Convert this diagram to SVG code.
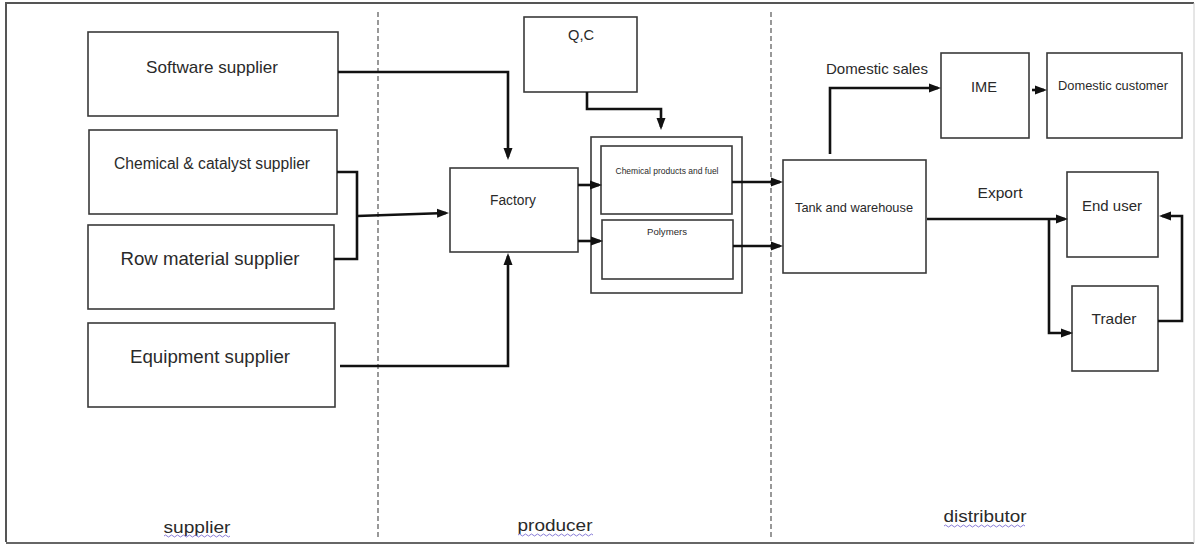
<svg xmlns="http://www.w3.org/2000/svg" width="1195" height="545" viewBox="0 0 1195 545">
<style>
  .box{fill:#fff;stroke:#3a3a3a;stroke-width:1.6}
  .t{font-family:"Liberation Sans",Arial,sans-serif;fill:#2a2a2a;text-anchor:middle}
  .c{fill:none;stroke:#111;stroke-width:2.6;stroke-linejoin:miter}
  .dash{stroke:#555;stroke-width:1.2;stroke-dasharray:5 3}
  .sq{fill:none;stroke:#6a5acd;stroke-width:0.8}
</style>
<defs>
  <marker id="ah" markerUnits="userSpaceOnUse" markerWidth="12" markerHeight="10" refX="9" refY="5" orient="auto">
    <path d="M0,0.5 L12,5 L0,9.5 z" fill="#111"/>
  </marker>
</defs>
<rect x="0" y="0" width="1195" height="545" fill="#fff"/>
<g id="frame">
  <path d="M6,542 V3 H1194" fill="none" stroke="#555" stroke-width="2"/>
  <path d="M6,543 H1194" fill="none" stroke="#666" stroke-width="2"/>
  <path d="M1194,3 V543" fill="none" stroke="#ccc" stroke-width="1"/>
</g>
<g id="dividers">
  <line class="dash" x1="378" y1="12" x2="378" y2="540"/>
  <line class="dash" x1="771" y1="12" x2="771" y2="540"/>
</g>
<g id="software-supplier">
  <rect class="box" x="88" y="32" width="250" height="84"/>
  <text class="t" x="212" y="73" font-size="17" textLength="132" lengthAdjust="spacingAndGlyphs">Software supplier</text>
</g>
<g id="chemical-catalyst-supplier">
  <rect class="box" x="89" y="130" width="248" height="84"/>
  <text class="t" x="212" y="169" font-size="16" textLength="196" lengthAdjust="spacingAndGlyphs">Chemical &amp; catalyst supplier</text>
</g>
<g id="row-material-supplier">
  <rect class="box" x="88" y="225" width="246" height="84"/>
  <text class="t" x="210" y="265" font-size="19" textLength="179" lengthAdjust="spacingAndGlyphs">Row material supplier</text>
</g>
<g id="equipment-supplier">
  <rect class="box" x="88" y="323" width="247" height="84"/>
  <text class="t" x="210" y="363" font-size="18" textLength="160" lengthAdjust="spacingAndGlyphs">Equipment supplier</text>
</g>
<g id="factory">
  <rect class="box" x="450" y="168" width="128" height="84"/>
  <text class="t" x="513" y="205" font-size="14" textLength="46" lengthAdjust="spacingAndGlyphs">Factory</text>
</g>
<g id="qc">
  <rect class="box" x="524" y="17" width="113" height="75"/>
  <text class="t" x="581" y="40" font-size="14" textLength="26" lengthAdjust="spacingAndGlyphs">Q,C</text>
</g>
<g id="products">
  <rect class="box" x="591" y="137" width="151" height="156"/>
  <g id="chemical-products">
    <rect class="box" x="601" y="146" width="131" height="68"/>
    <text class="t" x="667" y="174" font-size="9" textLength="103" lengthAdjust="spacingAndGlyphs">Chemical products and fuel</text>
  </g>
  <g id="polymers">
    <rect class="box" x="602" y="220" width="131" height="59"/>
    <text class="t" x="667" y="235" font-size="9.5" textLength="40" lengthAdjust="spacingAndGlyphs">Polymers</text>
  </g>
</g>
<g id="tank-warehouse">
  <rect class="box" x="783" y="160" width="143" height="113"/>
  <text class="t" x="854" y="212" font-size="13" textLength="118" lengthAdjust="spacingAndGlyphs">Tank and warehouse</text>
</g>
<g id="ime">
  <rect class="box" x="941" y="53" width="88" height="85"/>
  <text class="t" x="984" y="92" font-size="15" textLength="26" lengthAdjust="spacingAndGlyphs">IME</text>
</g>
<g id="domestic-customer">
  <rect class="box" x="1047" y="53" width="135" height="85"/>
  <text class="t" x="1113" y="90" font-size="13" textLength="110" lengthAdjust="spacingAndGlyphs">Domestic customer</text>
</g>
<g id="end-user">
  <rect class="box" x="1067" y="172" width="91" height="85"/>
  <text class="t" x="1112" y="211" font-size="15" textLength="60" lengthAdjust="spacingAndGlyphs">End user</text>
</g>
<g id="trader">
  <rect class="box" x="1072" y="286" width="86" height="85"/>
  <text class="t" x="1114" y="324" font-size="15" textLength="45" lengthAdjust="spacingAndGlyphs">Trader</text>
</g>
<g id="connectors">
  <path class="c" d="M338,72 H508 V157" marker-end="url(#ah)"/>
  <path class="c" d="M337,172 H357 V259 H334"/>
  <path class="c" d="M357,216 L446,213" marker-end="url(#ah)"/>
  <path class="c" d="M340,366 H508 V256" marker-end="url(#ah)"/>
  <path class="c" d="M587,92 V109 H661 V127" marker-end="url(#ah)"/>
  <path class="c" d="M578,185 H599" marker-end="url(#ah)"/>
  <path class="c" d="M578,241 H600" marker-end="url(#ah)"/>
  <path class="c" d="M732,182 H780" marker-end="url(#ah)"/>
  <path class="c" d="M733,246 H780" marker-end="url(#ah)"/>
  <path class="c" d="M830,154 V88 H938" marker-end="url(#ah)"/>
  <path class="c" d="M1032,90 H1044" marker-end="url(#ah)"/>
  <path class="c" d="M927,219 H1065" marker-end="url(#ah)"/>
  <path class="c" d="M1049,219 V333 H1070" marker-end="url(#ah)"/>
  <path class="c" d="M1158,321 H1182 V216 H1162" marker-end="url(#ah)"/>
</g>
<g id="edge-labels">
  <text class="t" x="877" y="74" font-size="15" textLength="102" lengthAdjust="spacingAndGlyphs">Domestic sales</text>
  <text class="t" x="1000" y="198" font-size="15" textLength="45" lengthAdjust="spacingAndGlyphs">Export</text>
</g>
<g id="section-labels">
  <text class="t" x="197" y="533" font-size="17" textLength="67" lengthAdjust="spacingAndGlyphs">supplier</text>
  <path class="sq" d="M164,536 q1.5,-2 3,0 t3,0 t3,0 t3,0 t3,0 t3,0 t3,0 t3,0 t3,0 t3,0 t3,0 t3,0 t3,0 t3,0 t3,0 t3,0 t3,0 t3,0 t3,0 t3,0 t3,0 t3,0"/>
  <text class="t" x="555" y="531" font-size="17" textLength="75" lengthAdjust="spacingAndGlyphs">producer</text>
  <path class="sq" d="M518,535 q1.5,-2 3,0 t3,0 t3,0 t3,0 t3,0 t3,0 t3,0 t3,0 t3,0 t3,0 t3,0 t3,0 t3,0 t3,0 t3,0 t3,0 t3,0 t3,0 t3,0 t3,0 t3,0 t3,0 t3,0 t3,0 t3,0"/>
  <text class="t" x="985" y="522" font-size="17" textLength="83" lengthAdjust="spacingAndGlyphs">distributor</text>
  <path class="sq" d="M944,526 q1.5,-2 3,0 t3,0 t3,0 t3,0 t3,0 t3,0 t3,0 t3,0 t3,0 t3,0 t3,0 t3,0 t3,0 t3,0 t3,0 t3,0 t3,0 t3,0 t3,0 t3,0 t3,0 t3,0 t3,0 t3,0 t3,0 t3,0 t3,0"/>
</g>
</svg>
